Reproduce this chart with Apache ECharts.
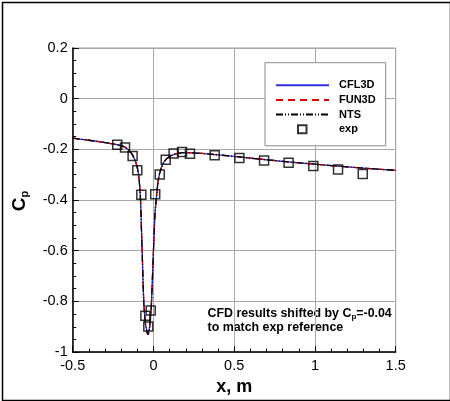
<!DOCTYPE html>
<html>
<head>
<meta charset="utf-8">
<script src="https://cdn.jsdelivr.net/npm/echarts@6/dist/echarts.min.js"></script>
<style>
html,body{margin:0;padding:0;background:#fff;}
#chart{width:450px;height:401px;}
</style>
</head>
<body>
<div id="chart"></div>
<script>
// ---- data ----
const xTicks = [-0.5, 0, 0.5, 1, 1.5];
const yTicks = [0.2, 0, -0.2, -0.4, -0.6, -0.8, -1];
const cfdX = [-0.5, -0.4, -0.3, -0.22, -0.18, -0.15, -0.13, -0.11, -0.1, -0.09, -0.08, -0.075, -0.07, -0.06, -0.05, -0.04, -0.035, -0.03, -0.02, -0.012, 0.0, 0.01, 0.017, 0.03, 0.05, 0.07, 0.1, 0.15, 0.2, 0.3, 0.5, 0.7, 0.9, 1.1, 1.3, 1.5];
const cfdY = [-0.156, -0.164, -0.173, -0.182, -0.19, -0.205, -0.222, -0.25, -0.272, -0.31, -0.40, -0.5, -0.6, -0.8, -0.885, -0.92, -0.93, -0.925, -0.88, -0.8, -0.6, -0.45, -0.4, -0.32, -0.27, -0.245, -0.228, -0.216, -0.213, -0.216, -0.228, -0.241, -0.253, -0.264, -0.274, -0.283];
const expX = [-0.224, -0.176, -0.129, -0.1, -0.075, -0.05, -0.032, -0.017, 0.011, 0.039, 0.076, 0.125, 0.177, 0.226, 0.379, 0.532, 0.685, 0.837, 0.99, 1.143, 1.296];
const expY = [-0.182, -0.193, -0.226, -0.282, -0.379, -0.857, -0.899, -0.836, -0.377, -0.299, -0.241, -0.216, -0.21, -0.217, -0.223, -0.234, -0.244, -0.253, -0.266, -0.279, -0.297];
const seriesNames = ['CFL3D', 'FUN3D', 'NTS', 'exp'];

const cfd = cfdX.map((x, i) => [x, cfdY[i]]);
const exp = expX.map((x, i) => [x, expY[i]]);

const FONT = 'Liberation Sans, Arial, Helvetica, sans-serif';
const chart = echarts.init(document.getElementById('chart'));

const hiddenSym = {color: 'rgba(0,0,0,0)', borderWidth: 0, opacity: 0};

chart.setOption({
  animation: false,
  backgroundColor: '#fff',
  grid: {left: 72.7, right: 54.3, top: 48, bottom: 45, show: true, borderColor: '#9a9a9a', borderWidth: 1},
  xAxis: {
    type: 'value', min: xTicks[0], max: xTicks[xTicks.length - 1], interval: 0.5,
    axisLine: {show: true, onZero: false, lineStyle: {color: '#000', width: 1.5}},
    axisTick: {show: true, inside: true, length: 6, lineStyle: {color: '#000', width: 1}},
    minorTick: {show: true, splitNumber: 5, length: 3.5, lineStyle: {color: '#000', width: 1}},
    splitLine: {show: true, lineStyle: {color: '#a8a8a8', width: 1}},
    axisLabel: {color: '#000', fontSize: 14.5, fontFamily: FONT, margin: 6,
      formatter: v => String(+v.toFixed(2))},
    name: 'x, m', nameLocation: 'middle', nameGap: 22,
    nameTextStyle: {color: '#000', fontSize: 18, fontWeight: 'bold', fontFamily: FONT}
  },
  yAxis: {
    type: 'value', min: yTicks[yTicks.length - 1], max: yTicks[0], interval: 0.2,
    axisLine: {show: true, onZero: false, lineStyle: {color: '#000', width: 1.5}},
    axisTick: {show: true, inside: true, length: 6, lineStyle: {color: '#000', width: 1}},
    minorTick: {show: true, splitNumber: 4, length: 3.5, lineStyle: {color: '#000', width: 1}},
    splitLine: {show: true, lineStyle: {color: '#a8a8a8', width: 1}},
    axisLabel: {color: '#000', fontSize: 14.5, fontFamily: FONT, margin: 5,
      formatter: v => String(+v.toFixed(2))}
  },
  legend: {
    orient: 'vertical', left: 265, top: 62.7,
    padding: [16, 10, 10, 10],
    backgroundColor: '#fff', borderColor: '#8a8a8a', borderWidth: 1,
    itemWidth: 53, itemHeight: 9, itemGap: 1.7,
    textStyle: {color: '#000', fontSize: 11, fontWeight: 'bold', fontFamily: FONT, lineHeight: 13, padding: [0, 0, 0, 5]},
    data: [
      {name: seriesNames[0], itemStyle: hiddenSym},
      {name: seriesNames[1], itemStyle: hiddenSym},
      {name: seriesNames[2], itemStyle: hiddenSym},
      {name: seriesNames[3], icon: 'path://M0,0M53,9M22,0.5h8.5v8h-8.5z'}
    ]
  },
  series: [
    {name: seriesNames[0], type: 'line', data: cfd, showSymbol: false, symbol: 'none', smooth: 0.3,
      lineStyle: {color: '#3030e0', width: 1.3, type: 'solid'}, itemStyle: {color: '#3030e0'}, z: 2},
    {name: seriesNames[1], type: 'line', data: cfd, showSymbol: false, symbol: 'none', smooth: 0.3,
      lineStyle: {color: '#dd0000', width: 1.3, type: [7, 5]}, itemStyle: {color: '#dd0000'}, z: 3},
    {name: seriesNames[2], type: 'line', data: cfd, showSymbol: false, symbol: 'none', smooth: 0.3,
      lineStyle: {color: '#000', width: 1.3, type: [7, 2, 1, 2, 1, 2]}, itemStyle: {color: '#000'}, z: 4},
    {name: seriesNames[3], type: 'scatter', data: exp, symbol: 'rect', symbolSize: 9,
      itemStyle: {color: 'rgba(0,0,0,0)', borderColor: '#000', borderWidth: 1.5}, z: 5}
  ],
  graphic: [
    {type: 'rect', left: 0, top: 0, shape: {x: 1, y: 1, width: 448, height: 398},
      style: {fill: 'none', stroke: '#000', lineWidth: 1.5}, silent: true},
    {type: 'text', x: 20, y: 201, rotation: Math.PI / 2, style: {
      text: '{c|C}{s|p}', align: 'center', verticalAlign: 'middle', fill: '#000',
      rich: {
        c: {fontSize: 19, fontWeight: 'bold', fontFamily: FONT, fill: '#000'},
        s: {fontSize: 11, fontWeight: 'bold', fontFamily: FONT, fill: '#000', padding: [9, 0, 0, 0]}
      }}},
    {type: 'text', left: 207.5, top: 307.5, style: {
      text: '{t|CFD results shifted by C}{s|p}{t|=-0.04}\n{t|to match exp reference}',
      fill: '#000', fontFamily: FONT,
      rich: {
        t: {fontSize: 12.4, fontWeight: 'bold', fontFamily: FONT, lineHeight: 13.5, fill: '#000'},
        s: {fontSize: 8, fontWeight: 'bold', fontFamily: FONT, lineHeight: 13.5, fill: '#000', padding: [5, 0, 0, 0]}
      }}}
  ]
});
</script>
</body>
</html>
